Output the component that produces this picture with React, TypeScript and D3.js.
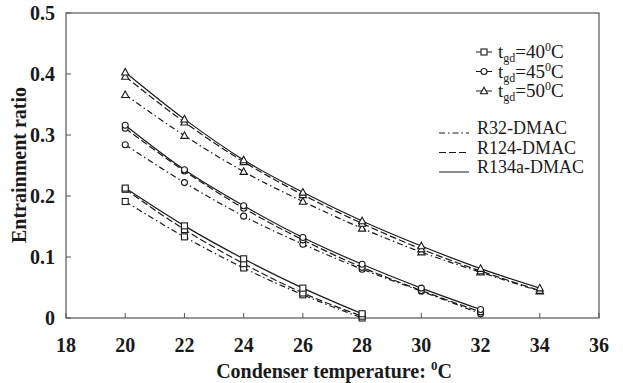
import React from "react";
import * as d3 from "d3";

const temps40 = [20, 22, 24, 26, 28];
const temps45 = [20, 22, 24, 26, 28, 30, 32];
const temps50 = [20, 22, 24, 26, 28, 30, 32, 34];

const r134a40 = [0.213, 0.151, 0.097, 0.049, 0.007];
const r124_40 = [0.211, 0.145, 0.089, 0.041, 0.003];
const r32_40 = [0.191, 0.133, 0.082, 0.038, 0.0];

const r134a45 = [0.316, 0.243, 0.184, 0.132, 0.088, 0.049, 0.014];
const r124_45 = [0.311, 0.241, 0.18, 0.128, 0.083, 0.045, 0.01];
const r32_45 = [0.284, 0.222, 0.167, 0.121, 0.08, 0.044, 0.007];

const r134a50 = [0.403, 0.326, 0.259, 0.206, 0.159, 0.118, 0.081, 0.049];
const r124_50 = [0.396, 0.321, 0.256, 0.202, 0.155, 0.113, 0.077, 0.045];
const r32_50 = [0.366, 0.299, 0.24, 0.191, 0.147, 0.108, 0.075, 0.044];

const xTicks = [18, 20, 22, 24, 26, 28, 30, 32, 34, 36];
const yTicks = [0, 0.1, 0.2, 0.3, 0.4, 0.5];
const yTickLabels = ["0", "0.1", "0.2", "0.3", "0.4", "0.5"];
const gdLabels = ["40", "45", "50"];
const fluidLabels = ["R32-DMAC", "R124-DMAC", "R134a-DMAC"];

const FONT = "'Liberation Serif', 'Times New Roman', serif";
const INK = "#1a1a1a";

type Marker = "square" | "circle" | "triangle";
const fluidDash = ["6,3,1.5,3", "7,3", ""];

const groups: { temps: number[]; series: number[][]; marker: Marker }[] = [
  { temps: temps40, series: [r32_40, r124_40, r134a40], marker: "square" },
  { temps: temps45, series: [r32_45, r124_45, r134a45], marker: "circle" },
  { temps: temps50, series: [r32_50, r124_50, r134a50], marker: "triangle" },
];

const x = d3.scaleLinear().domain([18, 36]).range([66, 599]);
const y = d3.scaleLinear().domain([0, 0.5]).range([318, 13]);

function MarkerShape({ type, cx, cy }: { type: Marker; cx: number; cy: number }) {
  const common = { fill: "white", stroke: INK, strokeWidth: 1.1 };
  if (type === "square") return <rect x={cx - 3} y={cy - 3} width={6} height={6} {...common} />;
  if (type === "circle") return <circle cx={cx} cy={cy} r={3} {...common} />;
  return <path d={`M${cx},${cy - 3.8}L${cx + 3.6},${cy + 2.8}L${cx - 3.6},${cy + 2.8}Z`} {...common} />;
}

export default function App() {
  const line = d3
    .line<[number, number]>()
    .x((d) => x(d[0]))
    .y((d) => y(d[1]))
    .curve(d3.curveMonotoneX);

  return (
    <svg
      width={623}
      height={383}
      style={{ position: "absolute", left: 0, top: 0, background: "white" }}
      fontFamily={FONT}
    >
      <rect x={0} y={0} width={623} height={383} fill="white" />
      {/* frame */}
      <rect x={x(18)} y={y(0.5)} width={x(36) - x(18)} height={y(0) - y(0.5)} fill="none" stroke="#555" strokeWidth={1.2} />
      {/* ticks */}
      {xTicks.map((t) => (
        <line key={"xt" + t} x1={x(t)} x2={x(t)} y1={y(0)} y2={y(0) - 5} stroke="#555" />
      ))}
      {yTicks.map((t) => (
        <line key={"yt" + t} x1={x(18)} x2={x(18) + 5} y1={y(t)} y2={y(t)} stroke="#555" />
      ))}
      {xTicks.map((t) => (
        <text key={"xl" + t} x={x(t)} y={352} textAnchor="middle" fontSize={20} fontWeight="bold" fill={INK}>
          {t}
        </text>
      ))}
      {yTicks.map((t, i) => (
        <text key={"yl" + t} x={55} y={y(t) + 7} textAnchor="end" fontSize={20} fontWeight="bold" fill={INK}>
          {yTickLabels[i]}
        </text>
      ))}
      <text x={334} y={378} textAnchor="middle" fontSize={20} fontWeight="bold" fill={INK}>
        Condenser temperature: <tspan dy={-8} fontSize={13}>0</tspan>
        <tspan dy={8}>C</tspan>
      </text>
      <text
        transform={`translate(26,${165}) rotate(-90)`}
        textAnchor="middle"
        fontSize={20}
        fontWeight="bold"
        fill={INK}
      >
        Entrainment ratio
      </text>

      {/* curves */}
      {groups.map((g, gi) =>
        g.series.map((s, si) => (
          <path
            key={`c${gi}-${si}`}
            d={line(g.temps.map((t, k) => [t, s[k]] as [number, number])) || ""}
            fill="none"
            stroke={INK}
            strokeWidth={1.2}
            strokeDasharray={fluidDash[si]}
          />
        ))
      )}
      {groups.map((g, gi) =>
        g.series.map((s, si) =>
          g.temps.map((t, k) => (
            <MarkerShape key={`m${gi}-${si}-${k}`} type={g.marker} cx={x(t)} cy={y(s[k])} />
          ))
        )
      )}

      {/* legend: markers */}
      {groups.map((g, i) => {
        const ly = 52 + i * 19.5;
        return (
          <g key={"lg" + i}>
            <line x1={476} x2={492} y1={ly} y2={ly} stroke={INK} />
            <MarkerShape type={g.marker} cx={484} cy={ly} />
            <text x={498} y={ly + 6} fontSize={19} fill={INK}>
              t<tspan dy={4} fontSize={12}>gd</tspan>
              <tspan dy={-4}>={gdLabels[i]}</tspan>
              <tspan dy={-7} fontSize={12}>0</tspan>
              <tspan dy={7}>C</tspan>
            </text>
          </g>
        );
      })}
      {/* legend: fluids */}
      {fluidLabels.map((f, i) => {
        const ly = 133 + i * 19.5;
        return (
          <g key={"lf" + i}>
            <line x1={439} x2={469} y1={ly} y2={ly} stroke={INK} strokeDasharray={fluidDash[i]} />
            <text x={477} y={ly + 1} fontSize={18} fill={INK}>
              {f}
            </text>
          </g>
        );
      })}
    </svg>
  );
}
